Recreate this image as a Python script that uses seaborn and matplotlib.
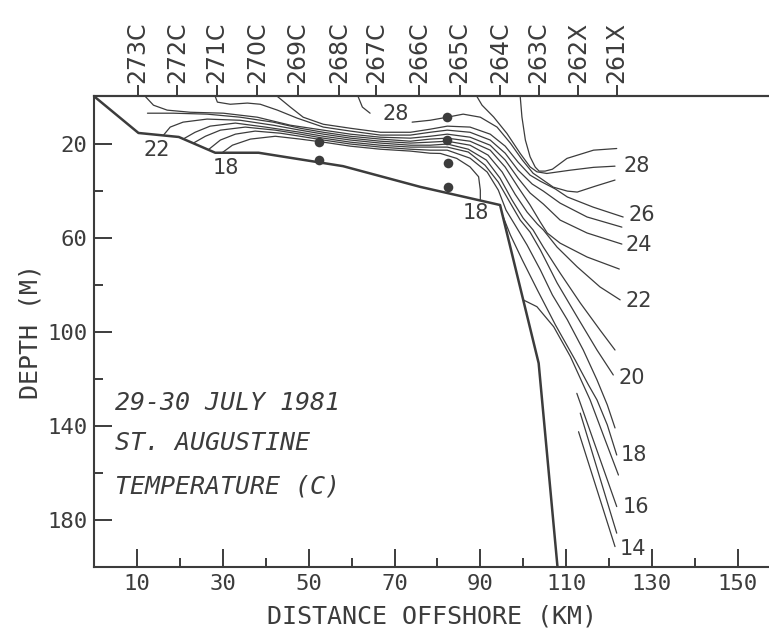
import matplotlib
matplotlib.use("Agg")
import matplotlib.pyplot as plt
import numpy as np
import pandas as pd
import seaborn as sns

sns.set_theme(style="ticks")
plt.rcParams["font.family"] = ["DejaVu Sans"]

INK = "#3c3c3c"
MONO = "DejaVu Sans Mono"

# --- hydrographic stations along the section (top axis) ---
station_names = ["273C", "272C", "271C", "270C", "269C", "268C", "267C",
                 "266C", "265C", "264C", "263C", "262X", "261X"]
station_km = [10.1, 19.4, 28.5, 38.0, 47.4, 57.0, 65.7, 75.7, 85.2, 94.7,
              103.6, 112.8, 121.8]

# --- axis ticks ---
x_major = [10, 30, 50, 70, 90, 110, 130, 150]
x_minor = [20, 40, 60, 80, 100, 120, 140]
y_major = [20, 60, 100, 140, 180]
y_minor = [40, 80, 120, 160]

# --- bottom profile ---
bottom_km = [0, 10.3, 19.7, 28.2, 38.3, 58.0, 76.0, 94.6, 103.6, 108.0]
bottom_depth = [0, 15.5, 17.2, 23.9, 23.9, 29.6, 38.4, 46.1, 113.3, 200]

# --- bottle samples ---
bottle_km = [52.4, 52.4, 82.3, 82.3, 82.5, 82.5]
bottle_depth = [19.3, 27.0, 8.7, 18.3, 28.2, 38.4]

# --- isotherms (distance km, depth m) ---
t28a_km = [61.5, 62.5, 64.3]
t28a_d = [0, 4.5, 7.1]

t28b_km = [74.1, 78.3, 82.3, 86.0, 90.0, 93.9, 97.0, 99.8, 102.3, 104.0,
           107.0, 110.3, 112.6, 116.8, 121.4]
t28b_d = [10.9, 10.1, 8.8, 7.5, 8.8, 13.0, 19.8, 27.0, 32.6, 34.7,
          38.5, 40.2, 40.6, 38.1, 35.5]

t28c_km = [89.2, 90.4, 93.1, 96.2, 99.3, 101.6, 103.2, 105.5, 111.0, 116.4, 121.4]
t28c_d = [0, 3.7, 8.7, 15.7, 24.2, 29.9, 32.0, 32.7, 31.3, 30.1, 29.6]

t29_km = [99.3, 99.7, 100.5, 101.6, 102.8, 103.7, 105.1, 106.8, 110.2, 116.4, 121.8]
t29_d = [0, 8.7, 18.5, 25.6, 30.0, 31.7, 31.7, 30.9, 26.3, 22.8, 22.1]

t26_km = [42.7, 45.7, 48.7, 53.4, 59.7, 66.7, 73.7, 78.3, 82.3, 87.6, 92.3,
          95.8, 98.8, 101.6, 104.0, 107.5, 110.3, 116.3, 123.3]
t26_d = [0, 4.5, 8.8, 11.8, 13.5, 15.2, 15.2, 13.9, 12.6, 13.0, 16.0,
         21.1, 27.9, 33.4, 36.0, 39.3, 42.7, 47.0, 51.2]

t25_km = [28.2, 28.7, 31.7, 35.7, 38.7, 42.7, 47.3, 53.4, 59.7, 66.7, 73.7,
          78.3, 82.3, 87.6, 92.3, 95.8, 98.8, 102.1, 104.7, 108.6, 114.9, 123.0]
t25_d = [0, 2.4, 3.3, 2.8, 3.3, 5.8, 9.2, 13.0, 14.7, 16.4, 16.4,
         15.2, 14.3, 15.2, 18.5, 24.1, 31.3, 37.2, 40.2, 45.3, 51.2, 55.5]

t24_km = [11.9, 13.8, 17.0, 22.4, 30.1, 38.0, 45.7, 53.4, 59.7, 66.7, 73.7,
          78.3, 82.3, 87.6, 92.3, 95.8, 98.8, 101.6, 104.7, 108.6, 114.9, 123.0]
t24_d = [0, 3.7, 5.8, 6.7, 7.1, 8.8, 12.2, 14.3, 16.0, 17.3, 17.7,
         16.9, 16.0, 17.3, 20.7, 27.0, 34.7, 41.0, 45.7, 52.5, 58.0, 62.7]

t23_km = [12.4, 18.4, 26.3, 34.0, 41.7, 48.0, 53.4, 59.7, 66.7, 73.7, 78.3,
          82.3, 87.6, 92.3, 95.8, 98.8, 101.6, 104.0, 105.6, 108.6, 114.9, 122.4]
t23_d = [7.1, 7.1, 7.5, 8.8, 10.9, 13.5, 15.2, 16.9, 18.1, 19.0, 18.1,
         17.7, 19.0, 22.8, 30.0, 38.5, 46.1, 53.4, 58.0, 62.3, 68.2, 73.3]

t22_km = [16.1, 17.7, 20.7, 26.3, 34.0, 41.7, 48.0, 53.4, 59.7, 66.7, 73.7,
          78.3, 82.3, 87.6, 91.8, 95.1, 98.1, 100.9, 103.3, 104.7, 107.9,
          112.6, 117.9, 122.6]
t22_d = [16.5, 13.0, 10.9, 9.6, 10.1, 12.2, 14.3, 16.0, 17.7, 19.0, 19.8,
         19.4, 19.0, 20.7, 24.9, 32.1, 41.5, 49.1, 54.2, 56.7, 64.0,
         72.4, 80.9, 86.4]

t21_km = [20.7, 23.5, 27.0, 32.9, 39.9, 48.0, 53.4, 59.7, 66.7, 73.7, 78.3,
          82.3, 87.2, 91.4, 94.6, 97.4, 100.0, 102.3, 104.7, 108.6, 113.3,
          117.9, 121.4]
t21_d = [18.1, 15.2, 12.6, 11.3, 13.0, 15.2, 16.9, 18.5, 19.8, 20.7, 20.7,
         20.2, 22.4, 27.0, 34.7, 44.0, 51.7, 56.7, 64.0, 75.0, 87.7,
         99.2, 107.7]

t20_km = [23.1, 25.9, 29.4, 35.2, 42.2, 48.0, 53.4, 59.7, 66.7, 73.7, 78.3,
          82.3, 87.2, 91.1, 94.2, 97.0, 99.3, 101.6, 104.0, 107.9, 112.6,
          117.2, 121.0]
t20_d = [19.8, 16.9, 14.3, 13.0, 14.3, 16.0, 17.7, 19.4, 20.7, 21.5, 21.5,
         21.5, 23.6, 29.2, 36.4, 45.3, 52.5, 57.6, 65.2, 79.2, 93.7,
         107.7, 118.3]

t19_km = [26.6, 29.4, 32.9, 37.5, 43.4, 48.0, 53.4, 59.7, 66.7, 73.7, 78.3,
          82.3, 87.6, 91.6, 94.2, 96.0, 98.1, 100.9, 104.0, 106.8, 110.3,
          114.0, 117.2, 119.6, 121.4]
t19_d = [22.6, 18.5, 16.0, 14.7, 15.6, 16.9, 18.5, 20.2, 21.5, 22.4, 22.8,
         22.8, 26.2, 32.1, 39.8, 48.3, 54.6, 63.1, 73.7, 84.3, 94.9,
         107.7, 120.4, 131.0, 140.8]

t18_shelf_km = [29.8, 32.2, 36.4, 42.2, 48.0, 53.4, 59.7, 66.7, 73.7, 78.3,
                80.7, 84.5, 87.6, 89.6, 90.0, 90.0]
t18_shelf_d = [23.9, 20.7, 18.1, 16.9, 18.1, 19.4, 21.1, 22.4, 23.2, 24.1,
               24.2, 26.3, 29.9, 34.1, 39.8, 44.2]

t18_slope_km = [95.2, 97.0, 99.8, 103.3, 107.5, 112.1, 115.2, 117.2, 119.6, 121.8]
t18_slope_d = [50.5, 58.8, 69.5, 82.2, 97.0, 111.9, 122.5, 128.9, 139.5, 152.3]

t17_km = [100.0, 103.2, 107.1, 111.0, 114.0, 115.6, 119.1, 122.2]
t17_d = [86.4, 89.3, 97.8, 110.5, 122.5, 128.9, 145.9, 160.8]

t16_km = [112.5, 121.8]
t16_d = [126.1, 174.2]
t15_km = [113.3, 121.8]
t15_d = [134.5, 185.5]
t14_km = [112.9, 121.4]
t14_d = [142.4, 191.2]

# isotherm labels: text, left-edge distance, centre depth
label_text = ["28", "22", "18", "18", "28", "26", "24", "22", "20", "18", "16", "14"]
label_km = [67.1, 11.4, 27.7, 86.0, 123.3, 124.5, 123.8, 123.8, 122.1, 122.7, 123.1, 122.6]
label_depth = [7.3, 22.6, 30.3, 49.4, 29.4, 50.2, 62.9, 86.7, 119.4, 152.3, 174.5, 192.4]

title_lines = ["29-30 JULY 1981", "ST. AUGUSTINE", "TEMPERATURE (C)"]
title_depth = [130.3, 147.2, 165.5]

segments = [
    ("t28a", t28a_km, t28a_d), ("t28b", t28b_km, t28b_d),
    ("t28c", t28c_km, t28c_d), ("t29", t29_km, t29_d),
    ("t26", t26_km, t26_d), ("t25", t25_km, t25_d),
    ("t24", t24_km, t24_d), ("t23", t23_km, t23_d),
    ("t22", t22_km, t22_d), ("t21", t21_km, t21_d),
    ("t20", t20_km, t20_d), ("t19", t19_km, t19_d),
    ("t18s", t18_shelf_km, t18_shelf_d), ("t18d", t18_slope_km, t18_slope_d),
    ("t17", t17_km, t17_d), ("t16", t16_km, t16_d),
    ("t15", t15_km, t15_d), ("t14", t14_km, t14_d),
]
iso = pd.concat(
    [pd.DataFrame({"km": k, "depth": d, "line": name}) for name, k, d in segments],
    ignore_index=True,
)

fig = plt.figure(figsize=(7.69, 6.36), dpi=100)
ax = fig.add_axes([0.1226, 0.1080, 0.8774, 0.7403])

sns.lineplot(data=iso, x="km", y="depth", units="line", estimator=None,
             sort=False, color=INK, linewidth=0.9, ax=ax)
sns.lineplot(x=bottom_km, y=bottom_depth, estimator=None, sort=False,
             color=INK, linewidth=1.8, ax=ax)
sns.scatterplot(x=bottle_km, y=bottle_depth, color=INK, s=48,
                linewidth=0, ax=ax, zorder=5)

ax.set_xlim(0, 157.3)
ax.set_ylim(200, 0)

# bottom and left axes
ax.set_xticks(x_major, labels=[str(v) for v in x_major])
ax.set_xticks(x_minor, minor=True)
ax.set_yticks(y_major, labels=[str(v) for v in y_major])
ax.set_yticks(y_minor, minor=True)
for lbl in ax.get_xticklabels() + ax.get_yticklabels():
    lbl.set_fontfamily(MONO)
ax.tick_params(axis="both", which="major", direction="in", length=13,
               width=1.4, color=INK, labelcolor=INK, labelsize=16, pad=5)
ax.tick_params(axis="both", which="minor", direction="in", length=6.5,
               width=1.4, color=INK)
ax.tick_params(top=False, right=False, bottom=True, left=True)

for side in ["left", "bottom", "top"]:
    ax.spines[side].set_linewidth(1.5)
    ax.spines[side].set_color(INK)
ax.spines["right"].set_visible(False)

# station axis on top
sec = ax.secondary_xaxis("top")
sec.set_xticks(station_km, labels=station_names)
sec.tick_params(direction="out", length=8, width=1.4, color=INK,
                labelcolor=INK, labelsize=17, pad=2, labelrotation=90)
sec.spines["top"].set_linewidth(1.5)
sec.spines["top"].set_color(INK)

ax.set_xlabel("DISTANCE OFFSHORE (KM)", fontfamily=MONO, fontsize=18,
              color=INK, va="top")
ax.xaxis.set_label_coords(0.5, -0.078)
ax.set_ylabel("DEPTH (M)", fontfamily=MONO, fontsize=18, color=INK,
              va="center")
ax.yaxis.set_label_coords(-0.095, 0.5)

for txt, x, y in zip(label_text, label_km, label_depth):
    ax.text(x, y, txt, ha="left", va="center", fontsize=15, color=INK)

for txt, y in zip(title_lines, title_depth):
    ax.text(4.9, y, txt, ha="left", va="center", fontsize=18, color=INK,
            fontfamily=MONO, fontstyle="oblique")

fig.savefig("out.png", dpi=100)
